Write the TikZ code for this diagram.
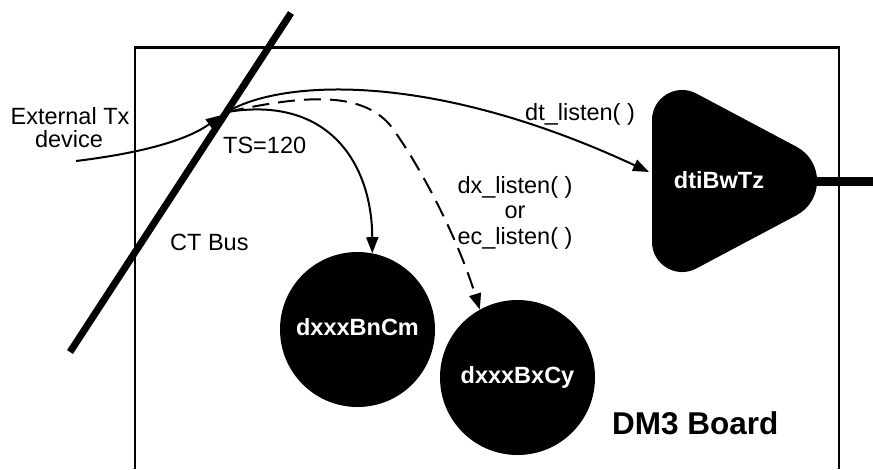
\documentclass[tikz,border=0pt]{standalone}
\usepackage{fontspec}
\setmainfont{Liberation Sans}
\usetikzlibrary{arrows.meta,calc}

\begin{document}
\begin{tikzpicture}[x=1pt,y=-1pt,
  lbl/.style={inner sep=0pt,font=\fontsize{23.5}{26}\selectfont},
  proc/.style={circle,fill=black,minimum size=155pt,inner sep=0pt,text=white,
    font=\fontsize{23.5}{26}\selectfont\bfseries,text height=17pt,text depth=5pt},
  link/.style={line width=2pt,-{Triangle[length=16pt,width=12pt]}},
  dlink/.style={link,dash pattern=on 17pt off 9pt},
  frame/.style={line width=2.5pt},
  bus/.style={line width=7pt},
  trunk/.style={line width=9pt}]
\useasboundingbox (0,0) rectangle (873,469);

% board outline (open at the bottom)
\draw[frame] (135,469) -- (135,47.7) -- (839,47.7) -- (839,469);

% CT bus
\coordinate (bustop) at (291,13);
\coordinate (busbot) at (70,352);
\draw[bus] (bustop) -- (busbot);

% time slot junction on the bus
\coordinate (J) at (227,112);

% resources
\node[proc] (c1) at (357.5,329.5) {dxxxBnCm};
\node[proc] (c2) at (517.5,377.5) {dxxxBxCy};

% rounded triangle for the dti device
\coordinate (TL) at (652,70);
\coordinate (BL) at (652,292);
\coordinate (TP) at (861,181);
\fill ($(TL)!50pt!(BL)$) .. controls ($(TL)!27.5pt!(BL)$) and ($(TL)!27.5pt!(TP)$) .. ($(TL)!50pt!(TP)$)
  -- ($(TP)!73pt!(TL)$) .. controls ($(TP)!42pt!(TL)$) and ($(TP)!42pt!(BL)$) .. ($(TP)!73pt!(BL)$)
  -- ($(BL)!50pt!(TP)$) .. controls ($(BL)!27.5pt!(TP)$) and ($(BL)!27.5pt!(TL)$) .. ($(BL)!50pt!(TL)$)
  -- cycle;
\node[lbl,text=white,font=\fontsize{23.5}{26}\selectfont\bfseries,anchor=base] (dti) at (719,188) {dtiBwTz};
\coordinate (dtiin) at (649,172);
\coordinate (dtiout) at (812,181);
\coordinate (lineend) at (873,181);
\draw[trunk] (dtiout) -- (lineend);

% external device feeding the bus
\coordinate (extstart) at (76,161);
\coordinate (extend) at (222,115);
\draw[link] (extstart) .. controls (150,152) and (190,138) .. (extend);

% listen connections
\draw[link] (J) .. controls (280,80) and (430,70) .. (dtiin);
\draw[link] (J) .. controls (330,95) and (372,165) .. (c1.79);
\draw[dlink] (J) .. controls (300,96) and (360,90) .. (390,125)
  .. controls (415,158) and (455,230) .. (c2.119);

% labels
\node[lbl,anchor=base] (ext1) at (70,124) {External Tx};
\node[lbl,anchor=base] (ext2) at (69,147) {device};
\node[lbl,anchor=base west] (ts) at (223,153) {TS=120};
\node[lbl,anchor=base west] (ctbus) at (170,250) {CT Bus};
\node[lbl,anchor=base west] (dtl) at (525,120) {dt\_listen( )};
\node[lbl,anchor=base] (dxl) at (515,193) {dx\_listen( )};
\node[lbl,anchor=base] (orl) at (515,218) {or};
\node[lbl,anchor=base] (ecl) at (515,244) {ec\_listen( )};
\node[lbl,anchor=base west,font=\fontsize{31.5}{34}\selectfont\bfseries] (board) at (612,434) {DM3 Board};
\end{tikzpicture}
\end{document}
